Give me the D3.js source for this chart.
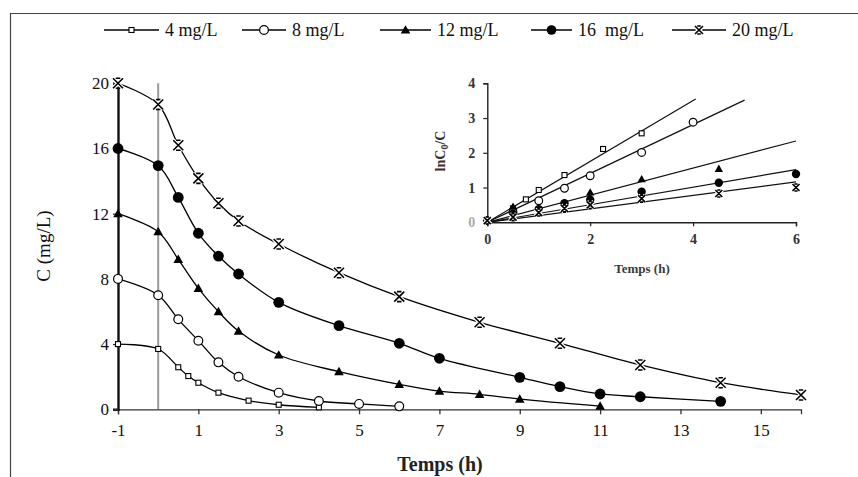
<!DOCTYPE html>
<html>
<head>
<meta charset="utf-8">
<script src="https://cdn.jsdelivr.net/npm/d3@7"></script>
<style>
  body { margin: 0; background: #fff; }
  svg { display: block; font-family: 'Liberation Serif', 'DejaVu Serif', serif; }
</style>
</head>
<body>
<svg id="chart" width="858" height="477"></svg>
<script>
// series labels (legend text as printed)
const seriesNames = ['4 mg/L', '8 mg/L', '12 mg/L', '16  mg/L', '20 mg/L'];
const markers = ['square', 'circle', 'triangle', 'dot', 'cross'];

// main plot: time (h) and concentration (mg/L)
const t4 = [-1, 0, 0.5, 0.75, 1, 1.5, 2.25, 3, 4];
const c4 = [4, 3.7, 2.58, 2.04, 1.63, 1.02, 0.53, 0.28, 0.12];
const t8 = [-1, 0, 0.5, 1, 1.5, 2, 3, 4, 5, 6];
const c8 = [8, 7.0, 5.52, 4.21, 2.88, 2.0, 1.02, 0.51, 0.33, 0.18];
const t12 = [-1, 0, 0.5, 1, 1.5, 2, 3, 4.5, 6, 7, 8, 9, 11];
const c12 = [12, 10.9, 9.2, 7.42, 5.99, 4.8, 3.33, 2.31, 1.53, 1.12, 0.92, 0.63, 0.2];
const t16 = [-1, 0, 0.5, 1, 1.5, 2, 3, 4.5, 6, 7, 9, 10, 11, 12, 14];
const c16 = [16, 14.95, 13.0, 10.8, 9.4, 8.3, 6.56, 5.13, 4.05, 3.13, 1.96, 1.39, 0.94, 0.77, 0.49];
const t20 = [-1, 0, 0.5, 1, 1.5, 2, 3, 4.5, 6, 8, 10, 12, 14, 16];
const c20 = [20, 18.7, 16.2, 14.17, 12.64, 11.55, 10.14, 8.38, 6.91, 5.34, 4.05, 2.72, 1.63, 0.88];

// inset: ln(C0/C) vs time
const it4 = [0, 0.5, 0.75, 1, 1.5, 2.25, 3];
const iy4 = [0.05, 0.4, 0.66, 0.93, 1.36, 2.11, 2.56];
const it8 = [0, 0.5, 1, 1.5, 2, 3, 4];
const iy8 = [0.05, 0.3, 0.62, 0.98, 1.34, 2.01, 2.88];
const it12 = [0, 0.5, 1, 1.5, 2, 3, 4.5];
const iy12 = [0.05, 0.45, 0.4, 0.56, 0.86, 1.24, 1.54];
const it16 = [0, 0.5, 1, 1.5, 2, 3, 4.5, 6];
const iy16 = [0.05, 0.25, 0.38, 0.55, 0.65, 0.88, 1.14, 1.39];
const it20 = [0, 0.5, 1, 1.5, 2, 3, 4.5, 6];
const iy20 = [0.05, 0.15, 0.28, 0.4, 0.5, 0.68, 0.83, 1.0];
// linear fits through origin: slope and end time
const fitSlopes = [0.876, 0.703, 0.39, 0.253, 0.194];
const fitEnds = [4.05, 5, 6, 6, 6];

// ticks
const xTicks = [-1, 1, 3, 5, 7, 9, 11, 13, 15];
const yTicks = [0, 4, 8, 12, 16, 20];
const ixTicks = [0, 2, 4, 6];
const iyTicks = [0, 1, 2, 3, 4];

const mainT = [t4, t8, t12, t16, t20];
const mainC = [c4, c8, c12, c16, c20];
const insT = [it4, it8, it12, it16, it20];
const insY = [iy4, iy8, iy12, iy16, iy20];

const svg = d3.select('#chart');
const fmt = d => String(d); // plain hyphen minus, as in the source

// frame
svg.append('path')
  .attr('d', 'M10.5,477 V13.5 H858')
  .attr('fill', 'none').attr('stroke', '#444').attr('stroke-width', 1.2);

const x = d3.scaleLinear().domain([-1, 16]).range([118, 801]);
const y = d3.scaleLinear().domain([0, 20]).range([409.3, 83.3]);

// draw a marker at (px, py)
function drawMarker(g, type, px, py, s) {
  if (type === 'square') {
    g.append('rect').attr('x', px - s * 0.5).attr('y', py - s * 0.5)
      .attr('width', s).attr('height', s)
      .attr('fill', '#fff').attr('stroke', '#000').attr('stroke-width', 1.1);
  } else if (type === 'circle') {
    g.append('circle').attr('cx', px).attr('cy', py).attr('r', s * 0.55)
      .attr('fill', '#fff').attr('stroke', '#000').attr('stroke-width', 1.2);
  } else if (type === 'triangle') {
    const h = s * 0.6;
    g.append('path')
      .attr('d', `M${px},${py - h} L${px + h},${py + h * 0.75} L${px - h},${py + h * 0.75}Z`)
      .attr('fill', '#000');
  } else if (type === 'dot') {
    g.append('circle').attr('cx', px).attr('cy', py).attr('r', s * 0.6).attr('fill', '#000');
  } else {
    const h = s * 0.5;
    const cross = `M${px - h},${py - h} L${px + h},${py + h} M${px + h},${py - h} L${px - h},${py + h}`;
    const bars = ` M${px - h * 0.45},${py - h} H${px + h * 0.45} M${px - h * 0.45},${py + h} H${px + h * 0.45}`;
    g.append('path').attr('d', cross)
      .attr('stroke', '#fff').attr('stroke-width', 4).attr('fill', 'none');
    g.append('path').attr('d', cross + bars)
      .attr('stroke', '#000').attr('stroke-width', 1.6).attr('fill', 'none');
  }
}

// legend
const legendLineX = [104, 242, 380, 531, 672];
const legendTextX = [165, 292, 437, 578, 732];
const legend = svg.append('g');
seriesNames.forEach((name, i) => {
  const x0 = legendLineX[i], x1 = legendTextX[i] - 6;
  legend.append('line').attr('x1', x0).attr('x2', x1).attr('y1', 30).attr('y2', 30)
    .attr('stroke', '#000').attr('stroke-width', 1.6);
  drawMarker(legend, markers[i], (x0 + x1) / 2, 30, markers[i] === 'square' ? 5 : 8);
  legend.append('text').attr('x', legendTextX[i]).attr('y', 36)
    .attr('font-size', 18).attr('fill', '#111').attr('xml:space', 'preserve')
    .style('white-space', 'pre').text(name);
});

// vertical gray line at t = 0
svg.append('line').attr('x1', x(0)).attr('x2', x(0)).attr('y1', y(0)).attr('y2', y(20))
  .attr('stroke', '#9a9a9a').attr('stroke-width', 2);

// axes
const xAxis = svg.append('g').attr('transform', `translate(0,${y(0)})`)
  .call(d3.axisBottom(x).tickValues(xTicks).tickSize(5).tickPadding(10).tickFormat(fmt));
xAxis.select('.domain').attr('stroke', '#333').attr('stroke-width', 1.3);
xAxis.selectAll('.tick line').attr('stroke', '#333').attr('stroke-width', 1.3);
xAxis.selectAll('text').attr('font-size', 17).attr('fill', '#111').attr('font-family', 'Liberation Serif');

const yAxis = svg.append('g').attr('transform', `translate(${x(-1)},0)`)
  .call(d3.axisLeft(y).tickValues(yTicks).tickSize(5).tickPadding(4).tickFormat(fmt));
yAxis.select('.domain').attr('stroke', '#111').attr('stroke-width', 2.4);
yAxis.selectAll('.tick line').attr('stroke', '#333').attr('stroke-width', 1.3);
yAxis.selectAll('text').attr('font-size', 17).attr('fill', '#111').attr('font-family', 'Liberation Serif');

svg.append('text').attr('transform', 'translate(50,246) rotate(-90)')
  .attr('text-anchor', 'middle').attr('font-size', 19).attr('fill', '#111').text('C (mg/L)');
svg.append('text').attr('x', 440).attr('y', 471)
  .attr('text-anchor', 'middle').attr('font-size', 20).attr('font-weight', 'bold')
  .attr('fill', '#222').text('Temps (h)');

// curves
const line = d3.line().x(d => x(d[0])).y(d => y(d[1])).curve(d3.curveCatmullRom.alpha(0.5));
mainT.forEach((ts, i) => {
  const pts = ts.map((t, k) => [t, mainC[i][k]]);
  svg.append('path').datum(pts).attr('d', line)
    .attr('fill', 'none').attr('stroke', '#000').attr('stroke-width', 1.3);
});
mainT.forEach((ts, i) => {
  const g = svg.append('g');
  const size = [5, 8, 8, 9, 10][i];
  ts.forEach((t, k) => drawMarker(g, markers[i], x(t), y(mainC[i][k]), size));
});

// inset
const ix = d3.scaleLinear().domain([0, 6]).range([487.3, 796]);
const iy = d3.scaleLinear().domain([0, 4]).range([222.3, 83.3]);

const ixAxis = svg.append('g').attr('transform', `translate(0,${iy(0)})`)
  .call(d3.axisBottom(ix).tickValues(ixTicks).tickSize(4).tickPadding(8).tickFormat(fmt));
ixAxis.select('.domain').attr('stroke', '#222').attr('stroke-width', 1.4);
ixAxis.selectAll('.tick line').attr('stroke', '#222').attr('stroke-width', 1.2);
ixAxis.selectAll('text').attr('font-size', 14).attr('font-weight', 'bold').attr('fill', '#333')
  .attr('font-family', 'Liberation Serif');

const iyAxis = svg.append('g').attr('transform', `translate(${ix(0)},0)`)
  .call(d3.axisLeft(iy).tickValues(iyTicks).tickSize(4).tickPadding(8).tickFormat(fmt));
iyAxis.select('.domain').attr('stroke', '#222').attr('stroke-width', 1.4);
iyAxis.selectAll('.tick line').attr('stroke', '#222').attr('stroke-width', 1.2);
iyAxis.selectAll('text').attr('font-size', 14).attr('font-weight', 'bold').attr('fill', '#333')
  .attr('font-family', 'Liberation Serif');
iyAxis.selectAll('.tick').filter(d => d === 0).select('text').attr('fill', '#aaa');

svg.append('text').attr('x', 642).attr('y', 273).attr('text-anchor', 'middle')
  .attr('font-size', 13).attr('font-weight', 'bold').attr('fill', '#3a3a3a').text('Temps (h)');
const ylab = svg.append('text').attr('transform', 'translate(445,151) rotate(-90)')
  .attr('text-anchor', 'middle').attr('font-size', 14).attr('font-weight', 'bold').attr('fill', '#3a3030');
ylab.append('tspan').text('lnC');
ylab.append('tspan').attr('font-size', 10).attr('dy', 3).text('0');
ylab.append('tspan').attr('dy', -3).text('/C');

fitSlopes.forEach((s, i) => {
  svg.append('line').attr('x1', ix(0)).attr('y1', iy(0))
    .attr('x2', ix(fitEnds[i])).attr('y2', iy(s * fitEnds[i]))
    .attr('stroke', '#111').attr('stroke-width', 1.2);
});
insT.forEach((ts, i) => {
  const g = svg.append('g');
  const size = [5, 7, 7, 7, 7][i];
  ts.forEach((t, k) => drawMarker(g, markers[i], ix(t), iy(insY[i][k]), size));
});
</script>
</body>
</html>
